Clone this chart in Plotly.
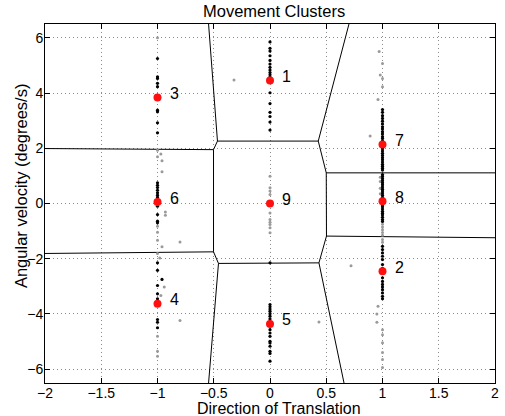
import plotly.graph_objects as go

# ---- data ----
centroid_x = [0, 1, -1, -1, 0, -1, 1, 1, 0]
centroid_y = [4.45, -2.45, 3.84, -3.63, -4.36, 0.05, 2.14, 0.08, 0.0]
centroid_labels = ["1", "2", "3", "4", "5", "6", "7", "8", "9"]

black_x = (
    [-1] * 9 + [-1] * 12 + [-1, -1, -0.96, -1, -1, -1, -1, -1, -1]
    + [0] * 17 + [0] * 18 + [1] * 25 + [1] * 22 + [1] * 15
)
black_y = (
    [5.25, 4.59, 4.53, 4.35, 4.23, 3.38, 3.32, 2.92, 2.56]
    + [0.75, 0.66, 0.58, 0.48, 0.39, 0.30, 0.22, 0.10, -0.10, -0.40, -0.64, -0.70]
    + [-2.15, -2.42, -2.75, -2.97, -3.27, -3.45, -4.20, -4.30, -4.50]
    + [5.85, 5.62, 5.52, 5.35, 5.18, 5.05, 4.93, 4.83, 4.74, 4.66, 4.58, 4.01, 3.62,
       3.30, 3.15, 2.95, 2.66]
    + [-2.15, -3.66, -3.74, -3.82, -3.90, -3.99, -4.08, -4.18, -4.27, -4.57, -4.69,
       -4.81, -4.99, -5.05, -5.17, -5.35, -5.43, -5.71]
    + [3.40, 3.30, 3.18, 3.08, 2.98, 2.88, 2.78, 2.70, 2.60, 2.52, 2.42, 2.35, 2.26,
       2.18, 1.98, 1.90, 1.82, 1.74, 1.66, 1.58, 1.50, 1.42, 1.35, 1.28, 1.21]
    + [1.05, 0.98, 0.90, 0.82, 0.75, 0.68, 0.60, 0.52, 0.45, 0.38, 0.30, 0.22, 0.15,
       -0.05, -0.12, -0.20, -0.28, -0.35, -0.42, -0.50, -0.58, -0.65]
    + [-1.55, -1.67, -1.79, -1.91, -2.03, -2.21, -2.35, -2.69, -2.82, -2.93, -3.02,
       -3.12, -3.24, -3.36, -3.45]
)

gray_x = [-1, -1, -0.97, -1, -0.96, -0.96, -0.93, -0.93, -1, -1, -1, -0.80, -0.96,
          -1, -0.98, -0.94, -0.97, -0.80, -1, -1, -1,
          -0.32,
          0, 0, 0, 0, 0, 0, 0, 0, 0, 0,
          0.97, 1, 0.98, 1, 1, 0.96, 0.89,
          0.98, 0.98, 0.98, 0.98, 1, 1, 1, 1, 1, 1, 1,
          0.72, 0.96, 0.95, 0.95, 0.435, 1, 1, 1, 1, 1, 1]
gray_y = [6.0, 1.93, 1.79, 1.69, 1.55, 1.15, -0.31, -0.43, -0.82, -1.04, -1.33, -1.39,
          -1.57, -1.81, -1.97, -3.02, -3.33, -4.24, -4.81, -5.35, -5.53,
          4.47,
          0.99, 0.57, 0.45, 0.33, -0.34, -0.58, -0.68, -0.76, -0.88, -1.06,
          5.50, 5.07, 4.65, 4.53, 4.23, 3.77, 2.44,
          0.95, 0.80, 0.55, 0.35, -0.75, -0.85, -0.95, -1.05, -1.15, -1.30, -1.40,
          -2.25, -3.72, -4.00, -4.30, -4.29, -4.57, -4.75, -5.04, -5.40, -5.65, -5.94]

# Voronoi cell boundaries (segments separated by None)
edge_x = [-2, -0.502, -0.467, -0.546, None,
          -0.467, 0.429, 0.702, None,
          0.429, 0.5, 2, None,
          0.5, 0.502, 2, None,
          0.502, 0.435, -0.458, -0.502, -2, None,
          0.435, 0.658, None,
          -0.458, -0.546, None,
          -0.502, -0.502]
edge_y = [1.99, 1.95, 2.26, 6.5, None,
          2.26, 2.26, 6.5, None,
          2.26, 1.11, 1.11, None,
          1.11, -1.18, -1.24, None,
          -1.18, -2.15, -2.17, -1.75, -1.81, None,
          -2.15, -6.5, None,
          -2.17, -6.5, None,
          -1.75, 1.95]

x_ticks = [-2, -1.5, -1, -0.5, 0, 0.5, 1, 1.5, 2]
y_ticks = [-6, -4, -2, 0, 2, 4, 6]

FONT = "Liberation Sans, Arial, Helvetica, sans-serif"

fig = go.Figure()
fig.add_trace(go.Scatter(x=edge_x, y=edge_y, mode="lines",
                         line=dict(color="black", width=1), hoverinfo="skip"))
fig.add_trace(go.Scatter(x=gray_x, y=gray_y, mode="markers",
                         marker=dict(color="#9a9a9a", size=3, line=dict(width=0))))
fig.add_trace(go.Scatter(x=black_x, y=black_y, mode="markers",
                         marker=dict(color="black", size=3.2, line=dict(width=0))))
fig.add_trace(go.Scatter(x=centroid_x, y=centroid_y, mode="markers",
                         marker=dict(color="#ff1010", size=8, line=dict(width=0))))

for cx, cy, lab in zip(centroid_x, centroid_y, centroid_labels):
    fig.add_annotation(x=cx, y=cy, text=lab, showarrow=False, xanchor="left",
                       yanchor="middle", xshift=10, yshift=4,
                       font=dict(family=FONT, size=16, color="black"))

fig.add_annotation(text="Movement Clusters", xref="paper", yref="paper",
                   x=0.508, y=1.036, xanchor="center", yanchor="middle",
                   showarrow=False, font=dict(family=FONT, size=16.5, color="black"))
fig.add_annotation(text="Direction of Translation", xref="paper", yref="paper",
                   x=0.521, y=-0.071, xanchor="center", yanchor="middle",
                   showarrow=False, font=dict(family=FONT, size=16, color="black"))
fig.add_annotation(text="Angular velocity (degrees/s)", xref="paper", yref="paper",
                   x=-0.053, y=0.549, xanchor="center", yanchor="middle",
                   textangle=-90, showarrow=False,
                   font=dict(family=FONT, size=16.5, color="black"))

axis_common = dict(showline=True, linecolor="black", linewidth=1, mirror="ticks",
                   ticks="inside", ticklen=5, tickcolor="black", tickwidth=1,
                   showgrid=True, gridcolor="#8c8c8c", gridwidth=1, griddash="1px,3px",
                   zeroline=False, tickfont=dict(family=FONT, size=14, color="black"))

fig.update_layout(
    width=505, height=416,
    margin=dict(l=45, r=6, t=24, b=33),
    paper_bgcolor="white", plot_bgcolor="white",
    showlegend=False,
    xaxis=dict(range=[-2, 2], tickvals=x_ticks, ticklabelstandoff=-3, **axis_common),
    yaxis=dict(range=[-6.5, 6.5], tickvals=y_ticks, ticklabelstandoff=-2, **axis_common),
)

fig.write_html("out.html")
